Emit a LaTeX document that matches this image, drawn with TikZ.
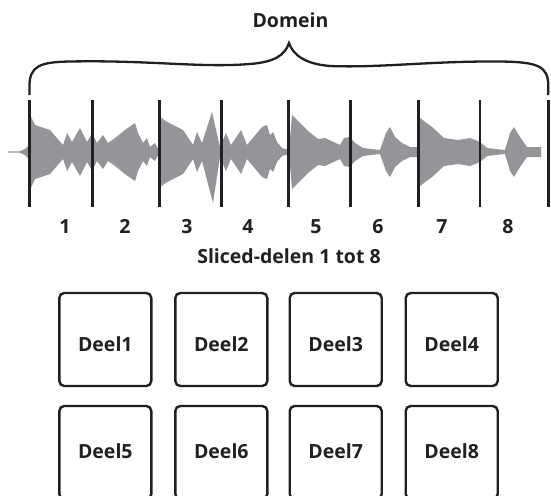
\documentclass[tikz,border=0pt]{standalone}
\usepackage{fontspec}
\setmainfont{Open Sans}
\definecolor{ink}{HTML}{231F20}
\definecolor{wave}{HTML}{939598}
\begin{document}
\begin{tikzpicture}[x=1pt,y=-1pt,
  lbl/.style={font=\fontsize{19.5}{22}\selectfont\bfseries,text=ink,inner sep=0pt,anchor=base},
  pad/.style={draw=ink,line width=2.4pt,rounded corners=5pt,minimum width=92pt,minimum height=93pt,inner sep=0pt},
  slice/.style={draw=ink,line width=2.6pt},
  brace/.style={draw=ink,line width=2.3pt}]
\useasboundingbox (0,0) rectangle (551,495);
% waveform
\fill[wave] (8,151.3) -- (20,151.3) -- (25,149) -- (29,145) -- (30,115) -- (35,125) -- (50,130) -- (63,145) -- (67,133) -- (72,142) -- (80,128) -- (87,142) -- (92,133) -- (97,143) -- (103,135) -- (108,143) -- (115,138) -- (125,130) -- (135,123) -- (138,133) -- (143,143) -- (147,138) -- (150,147) -- (155,143) -- (158,149) -- (160,117) -- (167,122) -- (183,130) -- (193,145) -- (197,132) -- (202,143) -- (212,112) -- (220,147) -- (226,133) -- (231,145) -- (241,130) -- (247,145) -- (262,127) -- (267,125) -- (270,135) -- (273,132) -- (277,142) -- (282,148) -- (289,150) -- (292,115) -- (300,123) -- (308,131) -- (318,139) -- (325,138) -- (340,145) -- (344,138) -- (350,137) -- (355,143) -- (363,148) -- (380,150) -- (386,133) -- (390,127) -- (395,137) -- (402,143) -- (410,147) -- (419,147) -- (420,118) -- (432,127) -- (444,138) -- (458,140) -- (470,138) -- (480,142) -- (487,148) -- (505,150) -- (510,133) -- (514,127) -- (520,137) -- (527,147) -- (541,147)
 -- (541,157) -- (527,157) -- (520,167) -- (514,177) -- (510,171) -- (505,154) -- (487,156) -- (480,162) -- (470,166) -- (458,164) -- (444,166) -- (432,177) -- (420,186) -- (419,157) -- (410,157) -- (402,161) -- (395,167) -- (390,177) -- (386,171) -- (380,154) -- (363,156) -- (355,161) -- (350,167) -- (344,166) -- (340,159) -- (325,166) -- (318,165) -- (308,173) -- (300,181) -- (292,189) -- (289,154) -- (282,156) -- (277,162) -- (273,172) -- (270,169) -- (267,179) -- (262,177) -- (247,159) -- (241,174) -- (231,159) -- (226,171) -- (220,157) -- (213,203) -- (202,161) -- (197,172) -- (193,159) -- (183,174) -- (167,182) -- (160,187) -- (158,155) -- (155,161) -- (150,157) -- (147,166) -- (143,161) -- (138,171) -- (135,181) -- (125,174) -- (115,166) -- (108,161) -- (103,169) -- (97,161) -- (92,171) -- (87,162) -- (80,176) -- (72,162) -- (67,171) -- (63,159) -- (50,174) -- (35,179) -- (30,190) -- (29,159) -- (25,155) -- (20,152.7) -- (8,152.7) -- cycle;
% slice lines
\foreach \x in {29.7,92.3,159.3,221.7,288.7,350.7,418.7,480,548.3}
  \draw[slice] (\x,100) -- (\x,207);
% brace
\coordinate (bl) at (29.5,95);
\coordinate (bt) at (289,43);
\coordinate (br) at (548.3,95);
\draw[brace] (bl) -- (29.5,86) .. controls (29.5,66) and (40,62) .. (70,61.5) .. controls (150,60) and (200,68) .. (250,64) .. controls (275,62) and (285,55) .. (bt)
  .. controls (293,55) and (305,64) .. (330,66) .. controls (380,68) and (430,61) .. (500,61.5) .. controls (538,62) and (548.3,66) .. (548.3,86) -- (br);
% labels
\node[lbl] (domein) at (290.5,27.7) {Domein};
\node[lbl] (n1) at (65,233) {1};
\node[lbl] (n2) at (125,233) {2};
\node[lbl] (n3) at (187,233) {3};
\node[lbl] (n4) at (248,233) {4};
\node[lbl] (n5) at (316,233) {5};
\node[lbl] (n6) at (378,233) {6};
\node[lbl] (n7) at (442,233) {7};
\node[lbl] (n8) at (508,233) {8};
\node[lbl] (sliced) at (289,263) {Sliced-delen 1 tot 8};
% pads
\node[pad] (p1) at (105.3,339.5) {};
\node[pad] (p2) at (221.3,339.5) {};
\node[pad] (p3) at (335.7,339.5) {};
\node[pad] (p4) at (451.7,339.5) {};
\node[pad] (p5) at (105.3,452.5) {};
\node[pad] (p6) at (221.3,452.5) {};
\node[pad] (p7) at (335.7,452.5) {};
\node[pad] (p8) at (451.7,452.5) {};
\node[lbl] (t1) at (105.3,351) {Deel1};
\node[lbl] (t2) at (221.3,351) {Deel2};
\node[lbl] (t3) at (335.7,351) {Deel3};
\node[lbl] (t4) at (451.7,351) {Deel4};
\node[lbl] (t5) at (105.3,458.3) {Deel5};
\node[lbl] (t6) at (221.3,458.3) {Deel6};
\node[lbl] (t7) at (335.7,458.3) {Deel7};
\node[lbl] (t8) at (451.7,458.3) {Deel8};
\end{tikzpicture}
\end{document}
